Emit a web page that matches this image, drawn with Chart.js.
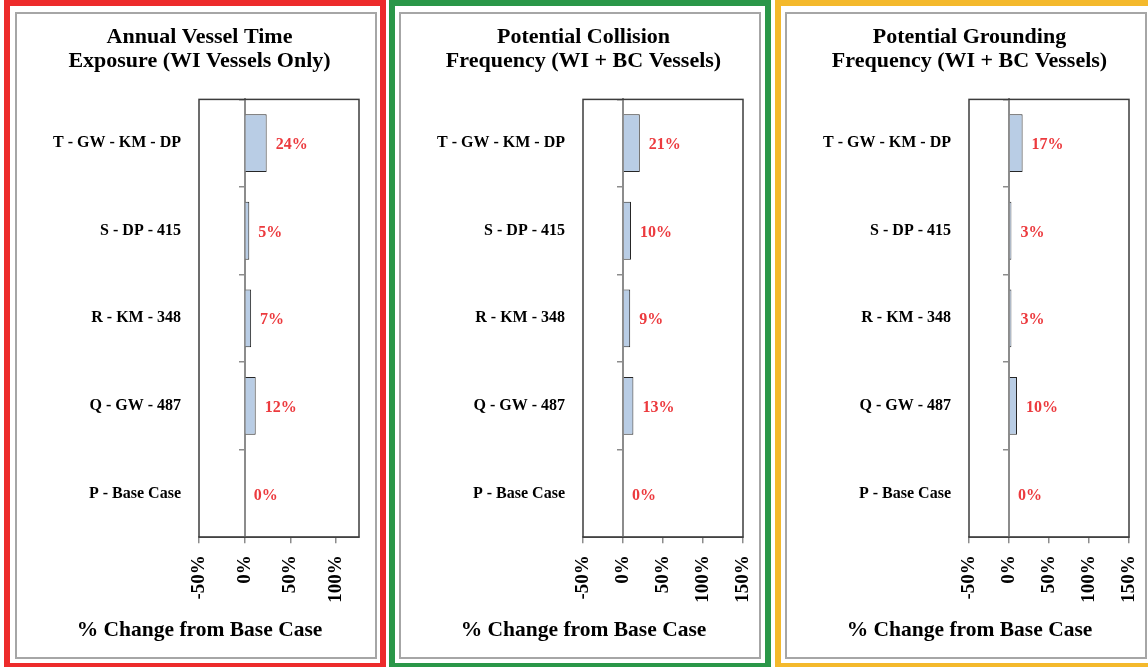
<!DOCTYPE html>
<html>
<head>
<meta charset="utf-8">
<script src="https://cdn.jsdelivr.net/npm/chart.js@4.4.1/dist/chart.umd.min.js"></script>
<style>
  html, body { margin: 0; padding: 0; background: #ffffff; width: 1148px; height: 667px; overflow: hidden; position: relative; }
  .frame { position: absolute; top: 0; width: 382px; height: 669px; box-sizing: border-box; border: 6px solid; }
  .inner { position: absolute; top: 12px; width: 362px; height: 647px; box-sizing: border-box; border: 2px solid #a6a6a6; }
  canvas { position: absolute; top: 14px; }
</style>
</head>
<body>
<div class="frame" style="left:4px;border-color:#ED2B2B;"></div>
<div class="frame" style="left:389px;border-color:#2A9748;"></div>
<div class="frame" style="left:775px;border-color:#F4B92C;"></div>
<div class="inner" style="left:15px;"></div>
<div class="inner" style="left:399px;"></div>
<div class="inner" style="left:785px;"></div>
<canvas id="c1" width="358" height="643" style="left:17px;"></canvas>
<canvas id="c2" width="358" height="643" style="left:401px;"></canvas>
<canvas id="c3" width="358" height="643" style="left:787px;"></canvas>
<script>
// ---- data ----
const categories = ['T - GW - KM - DP', 'S - DP - 415', 'R - KM - 348', 'Q - GW - 487', 'P - Base Case'];
const exposureValues = [24, 5, 7, 12, 0];
const collisionValues = [21, 10, 9, 13, 0];
const groundingValues = [17, 3, 3, 10, 0];
const titleExposure = ['Annual Vessel Time', 'Exposure (WI Vessels Only)'];
const titleCollision = ['Potential Collision', 'Frequency (WI + BC Vessels)'];
const titleGrounding = ['Potential Grounding', 'Frequency (WI + BC Vessels)'];
const axisTitle = '% Change from Base Case';
const axisMinExposure = -50, axisMaxExposure = 125;
const axisMinFreq = -50, axisMaxFreq = 150;
const tickStep = 50;

Chart.defaults.font.family = "'Liberation Serif', 'DejaVu Serif', serif";
Chart.defaults.color = '#000000';

const plotBox = {
  id: 'plotBox',
  beforeDatasetsDraw(chart) {
    const a = chart.chartArea, ctx = chart.ctx;
    ctx.save();
    ctx.strokeStyle = '#3c3c3c';
    ctx.lineWidth = 1.5;
    ctx.strokeRect(a.left, a.top, a.right - a.left, a.bottom - a.top);
    ctx.restore();
  }
};

const valueLabels = {
  id: 'valueLabels',
  afterDatasetsDraw(chart) {
    const ctx = chart.ctx;
    ctx.save();
    ctx.font = "bold 16px 'Liberation Serif', serif";
    ctx.fillStyle = '#EC3A3E';
    ctx.textAlign = 'left';
    ctx.textBaseline = 'middle';
    chart.data.datasets.forEach((ds, di) => {
      chart.getDatasetMeta(di).data.forEach((el, i) => {
        ctx.fillText(ds.data[i] + '%', el.x + 9, el.y + 2);
      });
    });
    ctx.restore();
  }
};

function makeChart(id, values, titleLines, xmin, xmax) {
  return new Chart(document.getElementById(id), {
    type: 'bar',
    data: {
      labels: categories,
      datasets: [{
        data: values,
        xAxisID: 'x',
        yAxisID: 'y',
        backgroundColor: '#B9CDE5',
        borderColor: '#262626',
        borderWidth: (c) => (c.raw === 0 ? 0 : 1),
        categoryPercentage: 1,
        barPercentage: 0.66
      }]
    },
    options: {
      indexAxis: 'y',
      responsive: false,
      animation: false,
      layout: { padding: { left: 23, right: 16, top: 0, bottom: 0 } },
      plugins: {
        legend: { display: false },
        tooltip: { enabled: false },
        title: {
          display: true,
          text: titleLines,
          color: '#000000',
          font: { size: 22, weight: 'bold', lineHeight: 1.1 },
          padding: { top: 11, bottom: 26 }
        },
        subtitle: {
          display: true,
          position: 'bottom',
          text: axisTitle,
          color: '#000000',
          font: { size: 21.5, weight: 'bold', lineHeight: 1.2 },
          padding: { top: 0, bottom: 14 }
        }
      },
      scales: {
        x: {
          type: 'linear',
          min: xmin,
          max: xmax,
          afterBuildTicks: (s) => { s.ticks = s.ticks.filter(t => t.value % tickStep === 0); },
          afterFit: (s) => { s.height = 80; s.paddingLeft = 0; s.paddingRight = 0; },
          ticks: {
            stepSize: tickStep,
            minRotation: 90,
            maxRotation: 90,
            padding: 12,
            color: '#000000',
            font: { size: 19, weight: 'bold' },
            callback: (v) => v + '%'
          },
          grid: { drawOnChartArea: false, tickLength: 6, color: '#8c8c8c', lineWidth: 1.5 },
          border: { color: '#8c8c8c', width: 1.5 }
        },
        y: {
          type: 'category',
          position: 'left',
          afterFit: (s) => { s.width = 159; },
          ticks: { padding: 18, color: '#000000', font: { size: 16, weight: 'bold' } },
          grid: { display: false, drawTicks: false },
          border: { display: false }
        },
        y2: {
          type: 'category',
          position: { x: 0 },
          ticks: { display: false },
          afterFit: (s) => { s.paddingTop = 0; s.paddingBottom = 0; },
          grid: { offset: true, drawOnChartArea: false, tickLength: 5, color: '#8c8c8c', lineWidth: 1.5 },
          border: { color: '#8c8c8c', width: 2 }
        }
      }
    },
    plugins: [plotBox, valueLabels]
  });
}

makeChart('c1', exposureValues, titleExposure, axisMinExposure, axisMaxExposure);
makeChart('c2', collisionValues, titleCollision, axisMinFreq, axisMaxFreq);
makeChart('c3', groundingValues, titleGrounding, axisMinFreq, axisMaxFreq);
</script>
</body>
</html>
